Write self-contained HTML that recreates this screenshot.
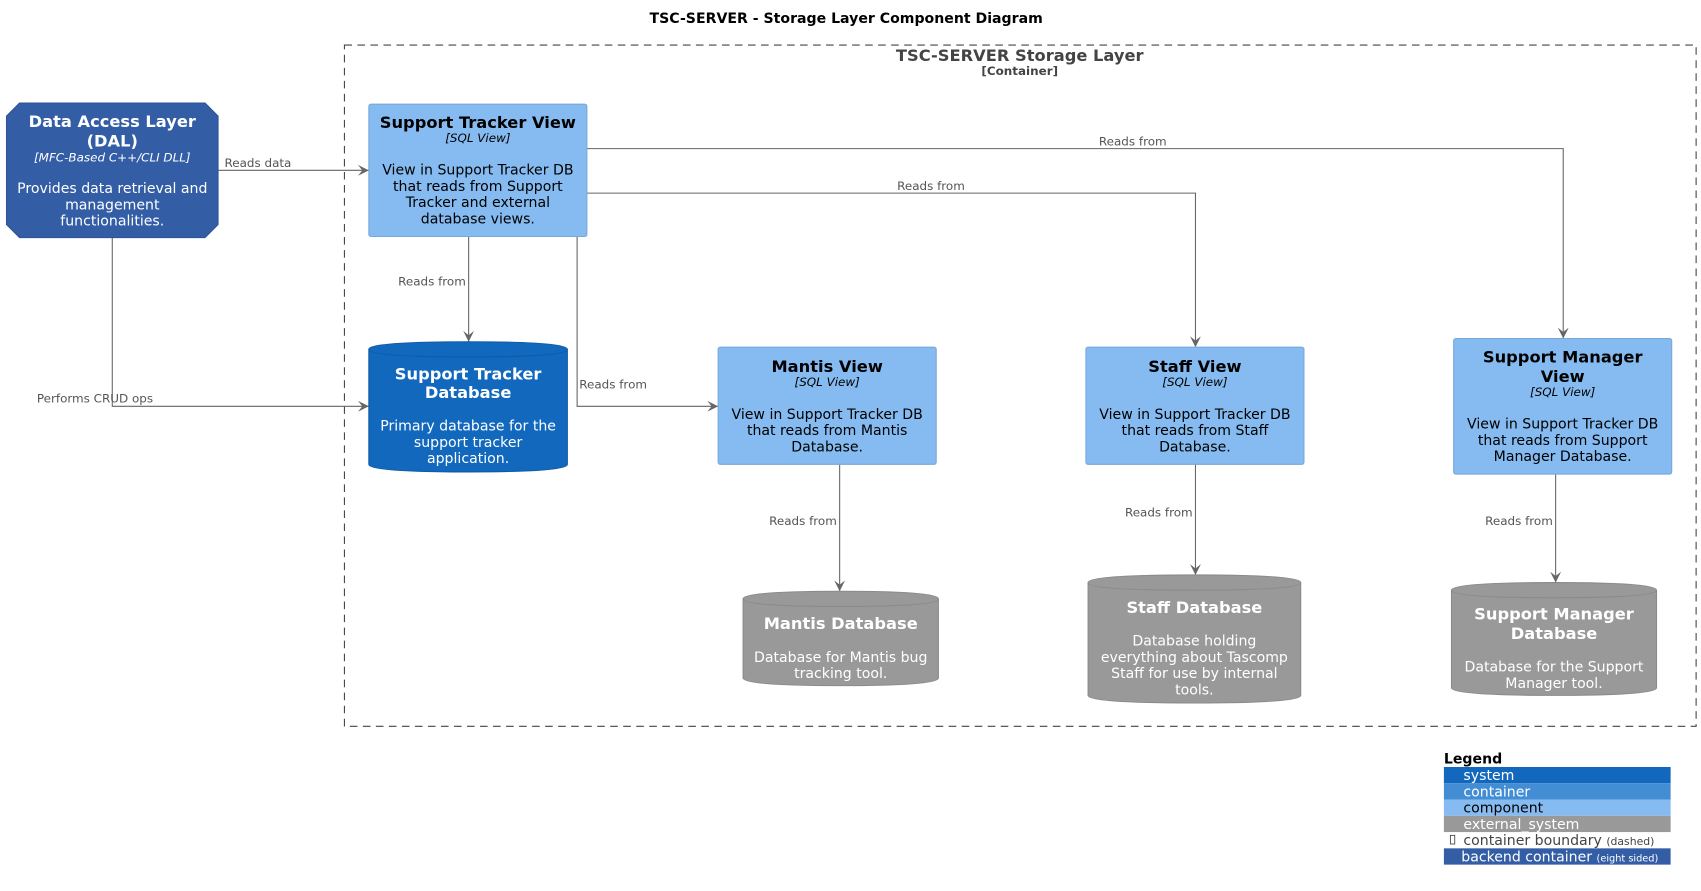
<!DOCTYPE html>
<html><head><meta charset="utf-8"><style>html,body{margin:0;padding:0;background:#fff}svg{display:block}</style></head>
<body>
<svg width="1701" height="891" viewBox="0 0 1568 821.3" xmlns="http://www.w3.org/2000/svg" font-family="'DejaVu Sans','Liberation Sans',sans-serif">
<defs><marker id="a" viewBox="0 0 10 10" refX="10" refY="5" markerWidth="10" markerHeight="10" orient="auto" markerUnits="userSpaceOnUse"><path d="M0,0 L10,5 L0,10 L4,5 z" fill="#666"/></marker></defs>
<text x="780" y="21" text-anchor="middle" font-weight="bold" font-size="13">TSC-SERVER - Storage Layer Component Diagram</text>
<rect x="317.5" y="41.5" width="1246" height="628" fill="none" stroke="#444" stroke-dasharray="7,5"/>
<text x="940" y="56" text-anchor="middle" font-weight="bold" font-size="15" fill="#444">TSC-SERVER Storage Layer</text>
<text x="940" y="69" text-anchor="middle" font-weight="bold" font-size="11" fill="#444">[Container]</text>

<g stroke="#666" fill="none" stroke-width="1">
<path d="M201,157 H340" marker-end="url(#a)"/>
<path d="M541,137 H1441 V312" marker-end="url(#a)"/>
<path d="M541,178 H1102 V320" marker-end="url(#a)"/>
<path d="M432,218 V315" marker-end="url(#a)"/>
<path d="M532,218 V374.5 H662" marker-end="url(#a)"/>
<path d="M103.5,219 V374.5 H340" marker-end="url(#a)"/>
<path d="M774,428 V545" marker-end="url(#a)"/>
<path d="M1102,428 V530" marker-end="url(#a)"/>
<path d="M1434,437 V537" marker-end="url(#a)"/>
</g>
<g font-size="11" fill="#555">
<text x="207" y="154">Reads data</text>
<text x="1013" y="134">Reads from</text>
<text x="827" y="175">Reads from</text>
<text x="367" y="263">Reads from</text>
<text x="534" y="358">Reads from</text>
<text x="34" y="371">Performs CRUD ops</text>
<text x="709" y="484">Reads from</text>
<text x="1037" y="476">Reads from</text>
<text x="1369" y="484">Reads from</text>
</g>

<!-- DAL -->
<polygon points="18,95 189,95 201,107 201,207 189,219 18,219 6,207 6,107" fill="#335DA5" stroke="#2E5496"/>
<g fill="#fff" text-anchor="middle">
<text x="103.5" y="117" font-weight="bold" font-size="15">Data Access Layer</text>
<text x="103.5" y="135" font-weight="bold" font-size="15">(DAL)</text>
<text x="103.5" y="149" font-style="italic" font-size="11">[MFC-Based C++/CLI DLL]</text>
<text x="103.5" y="178" font-size="13">Provides data retrieval and</text>
<text x="103.5" y="193" font-size="13">management</text>
<text x="103.5" y="208" font-size="13">functionalities.</text>
</g>

<!-- component views -->
<g fill="#85BBF0" stroke="#78A8D8">
<rect x="340" y="96" width="201" height="122" rx="2"/>
<rect x="662" y="320" width="201" height="108" rx="2"/>
<rect x="1001" y="320" width="201" height="108" rx="2"/>
<rect x="1340" y="312" width="201" height="125" rx="2"/>
</g>
<g fill="#000" text-anchor="middle">
<text x="440.5" y="118" font-weight="bold" font-size="15">Support Tracker View</text>
<text x="440.5" y="131" font-style="italic" font-size="11">[SQL View]</text>
<text x="440.5" y="161" font-size="13">View in Support Tracker DB</text>
<text x="440.5" y="176" font-size="13">that reads from Support</text>
<text x="440.5" y="191" font-size="13">Tracker and external</text>
<text x="440.5" y="206" font-size="13">database views.</text>

<text x="762.5" y="343" font-weight="bold" font-size="15">Mantis View</text>
<text x="762.5" y="356" font-style="italic" font-size="11">[SQL View]</text>
<text x="762.5" y="386" font-size="13">View in Support Tracker DB</text>
<text x="762.5" y="401" font-size="13">that reads from Mantis</text>
<text x="762.5" y="416" font-size="13">Database.</text>

<text x="1101.5" y="343" font-weight="bold" font-size="15">Staff View</text>
<text x="1101.5" y="356" font-style="italic" font-size="11">[SQL View]</text>
<text x="1101.5" y="386" font-size="13">View in Support Tracker DB</text>
<text x="1101.5" y="401" font-size="13">that reads from Staff</text>
<text x="1101.5" y="416" font-size="13">Database.</text>

<text x="1440.5" y="334" font-weight="bold" font-size="15">Support Manager</text>
<text x="1440.5" y="352" font-weight="bold" font-size="15">View</text>
<text x="1440.5" y="365" font-style="italic" font-size="11">[SQL View]</text>
<text x="1440.5" y="395" font-size="13">View in Support Tracker DB</text>
<text x="1440.5" y="410" font-size="13">that reads from Support</text>
<text x="1440.5" y="425" font-size="13">Manager Database.</text>
</g>

<!-- cylinders -->
<g stroke-width="1">
<path d="M340,322 Q340,315 431.5,315 Q523,315 523,322 V428 Q523,435 431.5,435 Q340,435 340,428 Z" fill="#1168BD" stroke="#0E5BA6"/>
<path d="M340,322 Q340,329 431.5,329 Q523,329 523,322" fill="none" stroke="#0E5BA6"/>
<path d="M685,552 Q685,545 775,545 Q865,545 865,552 V625 Q865,632 775,632 Q685,632 685,625 Z" fill="#999" stroke="#8A8A8A"/>
<path d="M685,552 Q685,559 775,559 Q865,559 865,552" fill="none" stroke="#8A8A8A"/>
<path d="M1003,537 Q1003,530 1101,530 Q1199,530 1199,537 V641 Q1199,648 1101,648 Q1003,648 1003,641 Z" fill="#999" stroke="#8A8A8A"/>
<path d="M1003,537 Q1003,544 1101,544 Q1199,544 1199,537" fill="none" stroke="#8A8A8A"/>
<path d="M1338,544 Q1338,537 1432.5,537 Q1527,537 1527,544 V634 Q1527,641 1432.5,641 Q1338,641 1338,634 Z" fill="#999" stroke="#8A8A8A"/>
<path d="M1338,544 Q1338,551 1432.5,551 Q1527,551 1527,544" fill="none" stroke="#8A8A8A"/>
</g>
<g fill="#fff" text-anchor="middle">
<text x="431.5" y="350" font-weight="bold" font-size="15">Support Tracker</text>
<text x="431.5" y="367" font-weight="bold" font-size="15">Database</text>
<text x="431.5" y="397" font-size="13">Primary database for the</text>
<text x="431.5" y="412" font-size="13">support tracker</text>
<text x="431.5" y="427" font-size="13">application.</text>

<text x="775" y="580" font-weight="bold" font-size="15">Mantis Database</text>
<text x="775" y="610" font-size="13">Database for Mantis bug</text>
<text x="775" y="625" font-size="13">tracking tool.</text>

<text x="1101" y="565" font-weight="bold" font-size="15">Staff Database</text>
<text x="1101" y="595" font-size="13">Database holding</text>
<text x="1101" y="610" font-size="13">everything about Tascomp</text>
<text x="1101" y="625" font-size="13">Staff for use by internal</text>
<text x="1101" y="640" font-size="13">tools.</text>

<text x="1432.5" y="571" font-weight="bold" font-size="15">Support Manager</text>
<text x="1432.5" y="589" font-weight="bold" font-size="15">Database</text>
<text x="1432.5" y="619" font-size="13">Database for the Support</text>
<text x="1432.5" y="634" font-size="13">Manager tool.</text>
</g>

<!-- legend -->
<text x="1331" y="704" font-weight="bold" font-size="13">Legend</text>
<rect x="1331" y="707" width="209" height="15" fill="#1168BD"/>
<rect x="1331" y="722" width="209" height="15" fill="#438DD5"/>
<rect x="1331" y="737" width="209" height="15" fill="#85BBF0"/>
<rect x="1331" y="752" width="209" height="15" fill="#999"/>
<rect x="1331" y="782" width="209" height="15" fill="#335DA5"/>
<g font-size="13">
<text x="1349" y="719" fill="#fff">system</text>
<text x="1349" y="734" fill="#fff">container</text>
<text x="1349" y="749" fill="#000">component</text>
<text x="1349" y="764" fill="#fff">external_system</text>
<text x="1349" y="779" fill="#444">container boundary <tspan font-size="10">(dashed)</tspan></text>
<text x="1347" y="794" fill="#fff">backend container <tspan font-size="9">(eight sided)</tspan></text>
</g>
<rect x="1337" y="770" width="4" height="8" fill="none" stroke="#444" stroke-width="0.8"/>
</svg>
</body></html>
